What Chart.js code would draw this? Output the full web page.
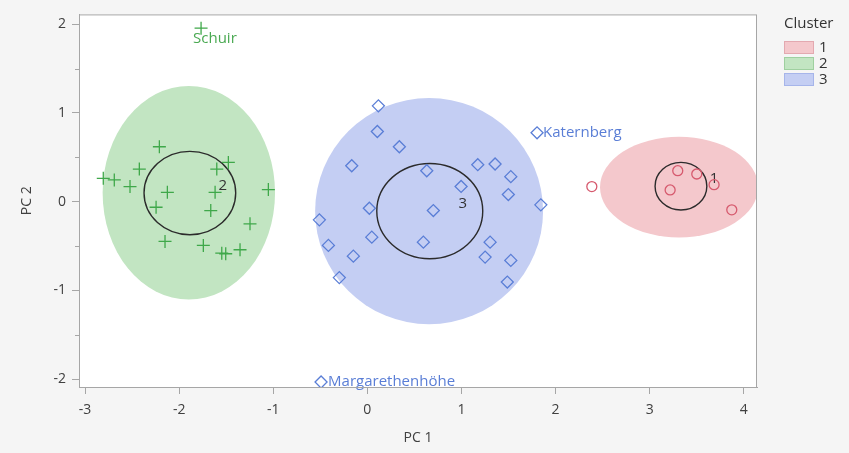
<!DOCTYPE html>
<html>
<head>
<meta charset="utf-8">
<script src="https://cdn.jsdelivr.net/npm/chart.js@4.4.1/dist/chart.umd.min.js"></script>
<style>
  html, body { margin: 0; padding: 0; background: #f5f5f5; }
  #wrap { width: 849px; height: 453px; }
</style>
</head>
<body>
<div id="wrap"><canvas id="chart"></canvas></div>
<script>
"use strict";

///////////////////////////////////////
// Data

const clusterNames = ["1", "2", "3"];

const cluster1X = [2.385, 3.298, 3.500, 3.684, 3.217, 3.872];
const cluster1Y = [0.169, 0.348, 0.311, 0.191, 0.131, -0.093];

const cluster2X = [-2.806, -2.689, -2.522, -2.423, -2.210, -2.125, -2.245, -2.150, -1.743, -1.600,
  -1.477, -1.618, -1.664, -1.247, -1.353, -1.547, -1.505, -1.052, -1.767];
const cluster2Y = [0.262, 0.244, 0.169, 0.367, 0.618, 0.104, -0.064, -0.449, -0.494, 0.367,
  0.442, 0.104, -0.101, -0.251, -0.543, -0.581, -0.588, 0.135, 1.955];

const cluster3X = [0.117, 0.106, 0.340, -0.166, 0.631, 1.173, 1.357, 1.524, 0.996, 1.498,
  1.843, 0.021, 0.701, -0.510, 0.047, -0.414, 0.595, 1.304, -0.149, 1.251,
  1.524, -0.298, 1.487, 1.803, -0.492];
const cluster3Y = [1.079, 0.790, 0.618, 0.404, 0.348, 0.416, 0.424, 0.281, 0.171, 0.079,
  -0.037, -0.075, -0.101, -0.206, -0.401, -0.494, -0.457, -0.457, -0.615, -0.626,
  -0.663, -0.857, -0.907, 0.775, -2.034];

// labelled rows: name, cluster (dataset index), row within cluster
const pointNames = ["Schuir", "Katernberg", "Margarethenhöhe"];
const pointNameCluster = [1, 2, 2];
const pointNameRow = [18, 23, 24];

// density ellipses and mean circles per cluster (data units)
const ellipseCx = [3.312, -1.897, 0.656];
const ellipseCy = [0.163, 0.099, -0.107];
const ellipseRx = [0.840, 0.916, 1.211];
const ellipseRy = [0.567, 1.204, 1.275];

const circleCx = [3.332, -1.886, 0.663];
const circleCy = [0.174, 0.096, -0.107];
const circleRx = [0.275, 0.487, 0.563];
const circleRy = [0.268, 0.470, 0.537];

const xTicks = [-3, -2, -1, 0, 1, 2, 3, 4];
const yTicks = [-2, -1, 0, 1, 2];
const yMinorTicks = [-1.5, -0.5, 0.5, 1.5];

///////////////////////////////////////
// Styles

const FONT = "'Open Sans', 'Noto Sans', sans-serif";
const AXIS_GRAY = "#a6a6a6";

const colors = {
  marker: ["#d65a6e", "#3fa84a", "#5a7ed6"],
  text: ["#d65a6e", "#4aa952", "#5a7ed6"],
  fill: ["#f4c8cc", "#c2e5c2", "#c4cef3"],
  swatchBorder: ["#e3a9b0", "#9fd0a0", "#a6b5ea"],
};

const pointStyles = ["circle", "cross", "rectRot"];
const pointRadii = [5, 6.5, 6];

const zip = (xs, ys) => xs.map((x, i) => ({ x: x, y: ys[i] }));
const seriesX = [cluster1X, cluster2X, cluster3X];
const seriesY = [cluster1Y, cluster2Y, cluster3Y];

const datasets = clusterNames.map((name, i) => ({
  label: name,
  data: zip(seriesX[i], seriesY[i]),
  pointStyle: pointStyles[i],
  pointRadius: pointRadii[i],
  borderColor: colors.marker[i],
  backgroundColor: "rgba(0,0,0,0)",
  pointBorderWidth: 1.3,
}));

///////////////////////////////////////
// Plugins

const backdrop = {
  id: "backdrop",
  beforeDraw(chart) {
    const { ctx, chartArea: a } = chart;
    ctx.save();
    ctx.fillStyle = "#f5f5f5";
    ctx.fillRect(0, 0, chart.width, chart.height);
    ctx.fillStyle = "#ffffff";
    ctx.fillRect(a.left, a.top, a.right - a.left, a.bottom - a.top);
    ctx.restore();
  },
  afterDraw(chart) {
    const { ctx, chartArea: a, scales: { y } } = chart;
    ctx.save();
    ctx.strokeStyle = AXIS_GRAY;
    ctx.lineWidth = 1;
    ctx.strokeRect(a.left + 0.5, a.top + 0.5, a.right - a.left - 1, a.bottom - a.top);
    // short minor ticks on the y axis
    ctx.beginPath();
    yMinorTicks.forEach((v) => {
      const py = Math.round(y.getPixelForValue(v)) + 0.5;
      ctx.moveTo(a.left - 4, py);
      ctx.lineTo(a.left, py);
    });
    ctx.stroke();
    ctx.restore();
  },
};

const ellipses = {
  id: "ellipses",
  beforeDatasetsDraw(chart) {
    const { ctx, chartArea: a, scales: { x, y } } = chart;
    const ux = x.getPixelForValue(1) - x.getPixelForValue(0);
    const uy = y.getPixelForValue(0) - y.getPixelForValue(1);
    ctx.save();
    ctx.beginPath();
    ctx.rect(a.left, a.top, a.right - a.left, a.bottom - a.top);
    ctx.clip();
    clusterNames.forEach((name, i) => {
      ctx.beginPath();
      ctx.ellipse(x.getPixelForValue(ellipseCx[i]), y.getPixelForValue(ellipseCy[i]),
        ellipseRx[i] * ux, ellipseRy[i] * uy, 0, 0, Math.PI * 2);
      ctx.fillStyle = colors.fill[i];
      ctx.fill();
    });
    clusterNames.forEach((name, i) => {
      const cx = x.getPixelForValue(circleCx[i]);
      const cy = y.getPixelForValue(circleCy[i]);
      ctx.beginPath();
      ctx.ellipse(cx, cy, circleRx[i] * ux, circleRy[i] * uy, 0, 0, Math.PI * 2);
      ctx.strokeStyle = "#2b2b2b";
      ctx.lineWidth = 1.4;
      ctx.stroke();
      ctx.fillStyle = "#333333";
      ctx.font = "15px " + FONT;
      ctx.textAlign = "center";
      ctx.textBaseline = "middle";
      ctx.fillText(name, cx + 33, cy - 7);
    });
    ctx.restore();
  },
};

// offsets of the row names from their markers
const nameOffsets = [[-8, 11], [6, 0], [7, 0]];

const pointLabels = {
  id: "pointLabels",
  afterDatasetsDraw(chart) {
    const { ctx } = chart;
    ctx.save();
    ctx.font = "15px " + FONT;
    ctx.textAlign = "left";
    ctx.textBaseline = "middle";
    pointNames.forEach((name, i) => {
      const ds = pointNameCluster[i];
      const el = chart.getDatasetMeta(ds).data[pointNameRow[i]];
      ctx.fillStyle = colors.text[ds];
      ctx.fillText(name, el.x + nameOffsets[i][0], el.y + nameOffsets[i][1]);
    });
    ctx.restore();
  },
};

const clusterLegend = {
  id: "clusterLegend",
  afterDraw(chart) {
    const { ctx } = chart;
    ctx.save();
    ctx.font = "15px " + FONT;
    ctx.textBaseline = "middle";
    ctx.textAlign = "left";
    ctx.fillStyle = "#333333";
    ctx.fillText("Cluster", 784, 24);
    clusterNames.forEach((name, i) => {
      const top = 41 + i * 16;
      ctx.fillStyle = colors.fill[i];
      ctx.fillRect(784, top, 30, 13);
      ctx.strokeStyle = colors.swatchBorder[i];
      ctx.lineWidth = 1;
      ctx.strokeRect(784.5, top + 0.5, 29, 12);
      ctx.fillStyle = "#333333";
      ctx.fillText(name, 819, top + 7);
    });
    ctx.restore();
  },
};

///////////////////////////////////////
// Chart config

const tickFont = { family: FONT, size: 14 };
const titleFont = { family: FONT, size: 14 };

const config = {
  type: "scatter",
  data: { datasets: datasets },
  plugins: [backdrop, ellipses, pointLabels, clusterLegend],
  options: {
    responsive: true,
    maintainAspectRatio: false,
    animation: false,
    events: [],
    layout: { padding: { left: 0, top: 13, right: 92, bottom: 0 } },
    plugins: {
      legend: { display: false },
      tooltip: { enabled: false },
    },
    scales: {
      x: {
        type: "linear",
        min: -3.064,
        max: 4.14,
        afterFit(scale) { scale.height = 66; },
        afterBuildTicks(scale) { scale.ticks = xTicks.map((v) => ({ value: v })); },
        ticks: {
          font: tickFont,
          color: "#404040",
          padding: 8,
          maxRotation: 0,
          callback: (v) => String(v),
        },
        grid: { drawOnChartArea: false, tickLength: 7, color: AXIS_GRAY },
        border: { display: true, color: AXIS_GRAY },
        title: {
          display: true,
          text: "PC 1",
          font: titleFont,
          color: "#404040",
          padding: { top: 0, bottom: 7 },
        },
      },
      y: {
        type: "linear",
        min: -2.09,
        max: 2.11,
        afterFit(scale) { scale.width = 79; },
        afterBuildTicks(scale) { scale.ticks = yTicks.map((v) => ({ value: v })); },
        ticks: {
          font: tickFont,
          color: "#404040",
          padding: 6,
          callback: (v) => String(v),
        },
        grid: { drawOnChartArea: false, tickLength: 7, color: AXIS_GRAY },
        border: { display: true, color: AXIS_GRAY },
        title: {
          display: true,
          text: "PC 2",
          font: titleFont,
          color: "#404040",
          padding: { top: 19, bottom: 0 },
        },
      },
    },
  },
};

///////////////////////////////////////
// Chart display

const chartEl = document.getElementById("chart");
const chart = new Chart(chartEl, config);
</script>
</body>
</html>
